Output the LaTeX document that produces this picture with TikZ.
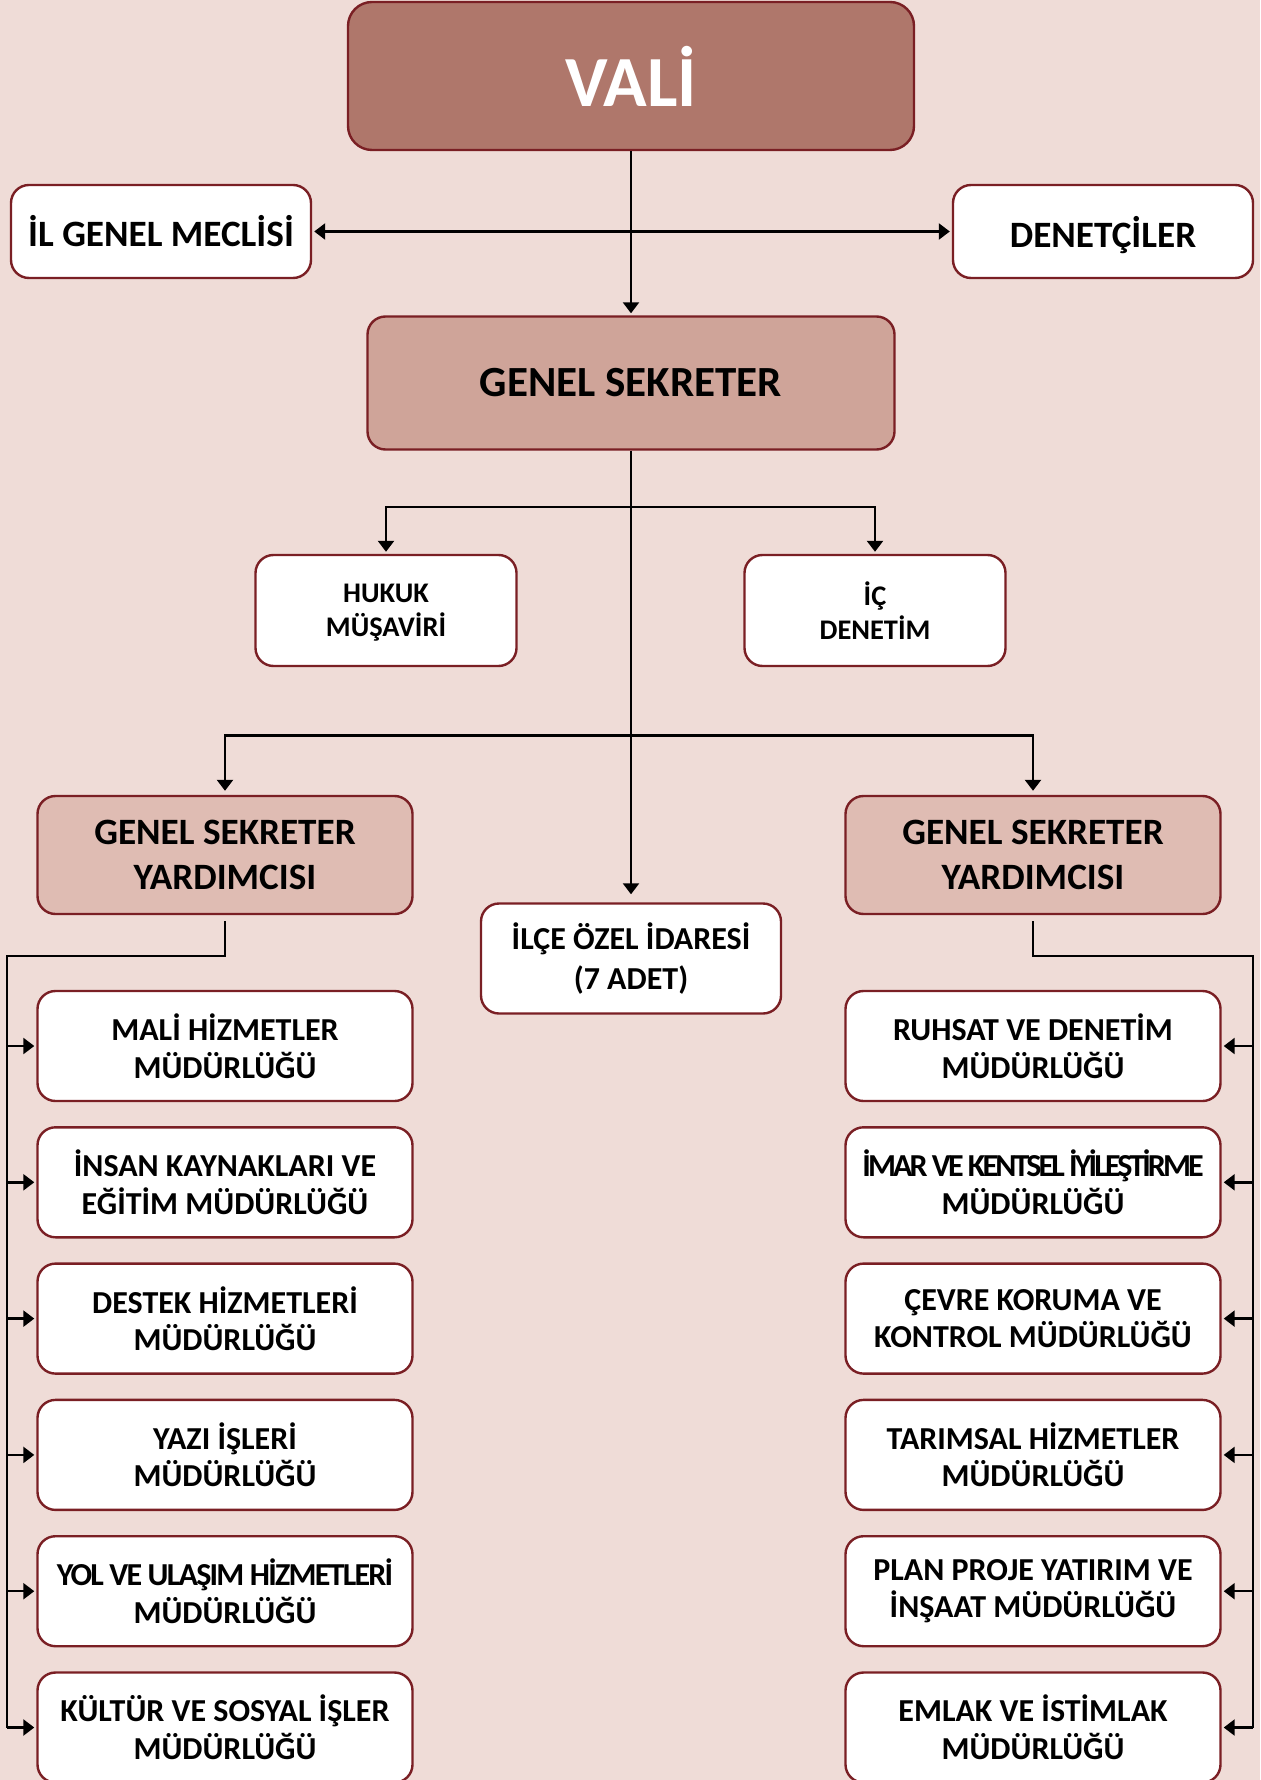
\documentclass[tikz,border=0pt]{standalone}
\usepackage{fontspec}
\setmainfont{Carlito}
\usepackage{tikz}
\usetikzlibrary{arrows.meta}
\definecolor{bgpink}{HTML}{EFDCD7}
\definecolor{valifill}{HTML}{AF776B}
\definecolor{gsfill}{HTML}{CFA499}
\definecolor{gsyfill}{HTML}{DFBCB3}
\definecolor{edgered}{HTML}{7A1F24}

\begin{document}
\begin{tikzpicture}[x=0.5pt,y=-0.5pt,
    box/.style={draw=edgered, line width=1.2pt, rounded corners=9pt, fill=white, align=center, inner sep=0pt},
    unit/.style={box, minimum width=187.5pt, minimum height=55pt, font=\bfseries\fontsize{16}{18.8}\selectfont},
    link/.style={line width=1.2pt, -{Triangle[width=8pt,length=5.5pt]}, shorten >=1pt},
    wire/.style={line width=1.2pt}]

    % Background and page size
    \fill[bgpink] (0,0) rectangle (1260,1780);
    \useasboundingbox (0,0) rectangle (1260,1780);

    % Top of the chart
    \node[box, fill=valifill, rounded corners=12pt, minimum width=283pt, minimum height=74pt, text=white, font=\bfseries\fontsize{36}{43}\selectfont] (Vali) at (631,76) {VALİ};
    \node[box, minimum width=150pt, minimum height=46.5pt, font=\bfseries\fontsize{18.6}{22}\selectfont] (Meclis) at (161,231.5) {İL GENEL MECLİSİ};
    \node[box, minimum width=150pt, minimum height=46.5pt, text depth=0pt, font=\bfseries\fontsize{18.6}{22}\selectfont] (Denetci) at (1103,231.5) {DENETÇİLER};
    \node[box, fill=gsfill, minimum width=263.5pt, minimum height=66.5pt, font=\bfseries\fontsize{21.5}{26}\selectfont] (GS) at (631,383) {GENEL SEKRETER};

    % Advisory units
    \node[box, minimum width=130.5pt, minimum height=55.5pt, font=\bfseries\fontsize{14.2}{17}\selectfont] (Hukuk) at (386,610.5) {\vphantom{İ}HUKUK\\MÜŞAVİRİ};
    \node[box, minimum width=130.5pt, minimum height=55.5pt, font=\bfseries\fontsize{14.2}{17}\selectfont] (IcDenetim) at (875,610.5) {İÇ\\DENETİM};

    % Deputies and district offices
    \node[box, fill=gsyfill, minimum width=187.5pt, minimum height=59pt, font=\bfseries\fontsize{18.6}{22.7}\selectfont] (YL) at (225,855) {GENEL SEKRETER\\YARDIMCISI};
    \node[box, fill=gsyfill, minimum width=187.5pt, minimum height=59pt, font=\bfseries\fontsize{18.6}{22.7}\selectfont] (YR) at (1033,855) {GENEL SEKRETER\\YARDIMCISI};
    \node[box, minimum width=150pt, minimum height=55pt, font=\bfseries\fontsize{16}{19.8}\selectfont] (Ilce) at (631,958.5) {İLÇE ÖZEL İDARESİ\\(7 ADET)};

    % Directorates, left column
    \foreach \i/\txt in {1/{MALİ HİZMETLER\\MÜDÜRLÜĞÜ},
                         2/{İNSAN KAYNAKLARI VE\\EĞİTİM MÜDÜRLÜĞÜ},
                         3/{DESTEK HİZMETLERİ\\MÜDÜRLÜĞÜ},
                         4/{YAZI İŞLERİ\\MÜDÜRLÜĞÜ},
                         5/{{\addfontfeature{LetterSpace=-5.5}YOL VE ULAŞIM HİZMETLERİ}\\MÜDÜRLÜĞÜ},
                         6/{KÜLTÜR VE SOSYAL İŞLER\\MÜDÜRLÜĞÜ}}
        \node[unit] (L\i) at (225,{1046+136.3*(\i-1)}) {\txt};

    % Directorates, right column
    \foreach \i/\txt in {1/{RUHSAT VE DENETİM\\MÜDÜRLÜĞÜ},
                         2/{{\addfontfeature{LetterSpace=-9}İMAR VE KENTSEL İYİLEŞTİRME}\\MÜDÜRLÜĞÜ},
                         3/{ÇEVRE KORUMA VE\\KONTROL MÜDÜRLÜĞÜ},
                         4/{TARIMSAL HİZMETLER\\MÜDÜRLÜĞÜ},
                         5/{PLAN PROJE YATIRIM VE\\İNŞAAT MÜDÜRLÜĞÜ},
                         6/{EMLAK VE İSTİMLAK\\MÜDÜRLÜĞÜ}}
        \node[unit] (R\i) at (1033,{1046+136.3*(\i-1)}) {\txt};

    % Connectors at the top
    \draw[link] (Vali) -- (GS);
    \draw[link, {Triangle[width=8pt,length=5.5pt]}-{Triangle[width=8pt,length=5.5pt]}, shorten <=1pt] (Meclis) -- (Denetci);

    \coordinate (AdvFork) at (631,507);
    \draw[link] (AdvFork) -| (Hukuk);
    \draw[link] (AdvFork) -| (IcDenetim);

    \coordinate (DepFork) at (631,735.5);
    \draw[link, shorten >=4pt] (GS) -- (Ilce);
    \draw[link, shorten >=2pt] (DepFork) -| (YL);
    \draw[link, shorten >=2pt] (DepFork) -| (YR);

    % Buses down the sides
    \coordinate (LBus) at (7,955.7);
    \coordinate (RBus) at (1253,955.7);
    \draw[wire] ([yshift=-3pt]YL.south) |- (LBus) -- (LBus |- L6.west);
    \draw[wire] ([yshift=-3pt]YR.south) |- (RBus) -- (RBus |- R6.east);
    \foreach \i in {1,...,6} {
        \draw[link] (LBus |- L\i.west) -- (L\i.west);
        \draw[link] (RBus |- R\i.east) -- (R\i.east);
    }
\end{tikzpicture}
\end{document}
